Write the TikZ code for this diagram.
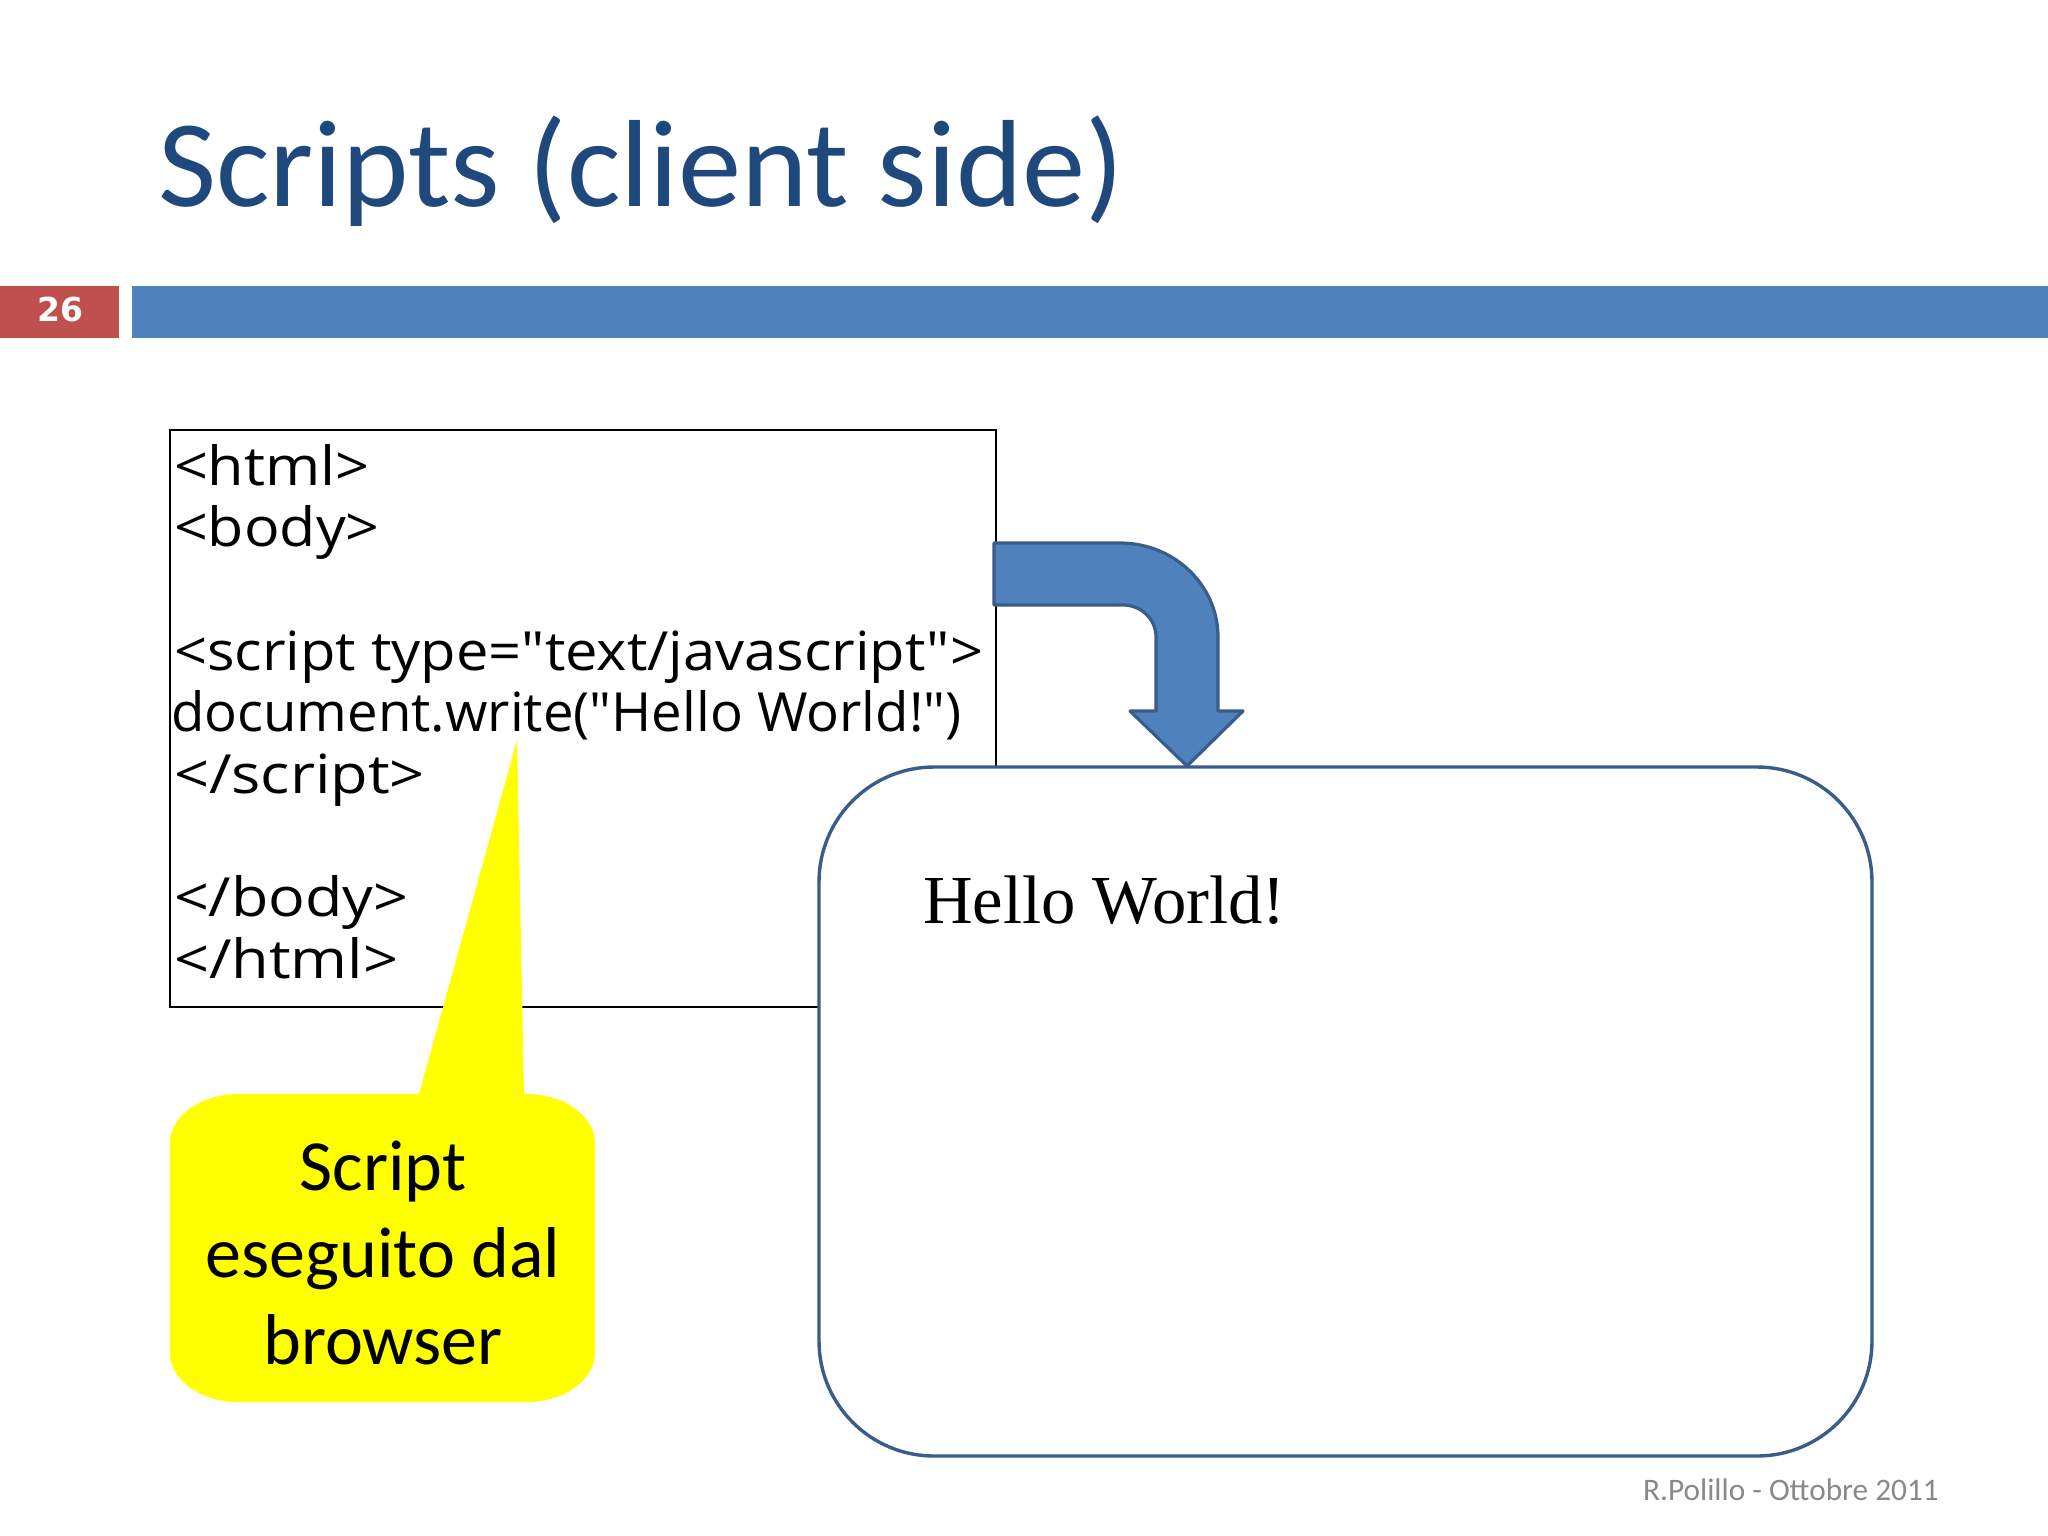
\documentclass[tikz,border=0pt]{standalone}
\usepackage{graphicx}
\usepackage{fontspec}
\setmainfont{Carlito}
\newfontfamily\codefont{Open Sans}
\newfontfamily\serfont{Liberation Serif}
\newfontfamily\numfont{DejaVu Sans}
\definecolor{titleblue}{HTML}{1F497D}
\definecolor{barblue}{HTML}{4F81BD}
\definecolor{barred}{HTML}{C0504D}
\definecolor{edgeblue}{HTML}{385D8A}
\definecolor{footgray}{HTML}{898989}
\definecolor{callyellow}{HTML}{FFFF00}
\newcommand{\sx}[2]{\scalebox{#1}[1]{#2}}
\tikzset{
  txt/.style={inner sep=0pt,outer sep=0pt,anchor=base west},
  codeline/.style={txt,font=\codefont\fontsize{54}{54}\selectfont,text=black},
  calltext/.style={inner sep=0pt,anchor=base,font=\fontsize{72}{72}\selectfont,text=black},
}
\begin{document}
\begin{tikzpicture}[x=1pt,y=-1pt]
\useasboundingbox (0,0) rectangle (2048,1535);
\fill[white] (0,0) rectangle (2048,1535);
% title and bars
\node[txt,text=titleblue,font=\fontsize{124}{124}\selectfont] (title) at (158,206) {\sx{1.02}{Scripts (client side)}};
\fill[barred] (0,286) rectangle (119,338);
\fill[barblue] (132,286) rectangle (2048,338);
\node[inner sep=0pt,anchor=base,text=white,font=\numfont\bfseries\fontsize{33}{33}\selectfont] (num) at (60,321) {26};
% code box
\node[draw=black,line width=1.4pt,fill=white,outer sep=0pt,minimum width=826pt,minimum height=577pt,inner sep=0pt,anchor=north west] (code) at (170,430) {};
\node[codeline] (l1) at (174,485) {\sx{1.10}{<html>}};
\node[codeline] (l2) at (174,546) {\sx{1.095}{<body>}};
\node[codeline] (l3) at (174,670) {\sx{1.071}{<script type="text/javascript">}};
\node[codeline] (l4) at (171,731) {\sx{1.01}{document.write("Hello World!")}};
\node[codeline] (l5) at (174,793) {\sx{1.136}{</script>}};
\node[codeline] (l6) at (174,916) {\sx{1.13}{</body>}};
\node[codeline] (l7) at (174,978) {\sx{1.134}{</html>}};
% big rounded box
\node[draw=edgeblue,line width=3.4pt,fill=white,outer sep=0pt,rounded corners=115pt,minimum width=1053pt,minimum height=689pt,inner sep=0pt,anchor=north west] (page) at (819,767) {};
\node[txt,text=black,font=\serfont\fontsize{68.7}{68.7}\selectfont] (hello) at (923,923) {Hello World!};
% bent arrow
\draw[fill=barblue,draw=edgeblue,line width=3.2pt,line join=round]
  (994,543) -- (1120,543) .. controls (1174,543) and (1218,585) .. (1218,637)
  -- (1218,711) -- (1243,711) -- (1187,766) -- (1130,711) -- (1156,711) -- (1156,637)
  .. controls (1156,619) and (1141,605) .. (1123,605) -- (994,605) -- cycle;
% callout
\fill[callyellow] (238,1094) -- (419,1094) -- (517,740) -- (524,1094) -- (527,1094)
  .. controls (564,1094) and (595,1116) .. (595,1143) -- (595,1353)
  .. controls (595,1380) and (564,1402) .. (527,1402) -- (238,1402)
  .. controls (201,1402) and (170,1380) .. (170,1353) -- (170,1143)
  .. controls (170,1116) and (201,1094) .. (238,1094) -- cycle;
\node[calltext] (c1) at (383,1190) {Script};
\node[calltext] (c2) at (383,1277) {eseguito dal};
\node[calltext] (c3) at (383,1364) {browser};
% footer
\node[txt,text=footgray,font=\fontsize{31.3}{31.3}\selectfont] (foot) at (1643,1500) {R.Polillo - Ottobre 2011};
\end{tikzpicture}
\end{document}
